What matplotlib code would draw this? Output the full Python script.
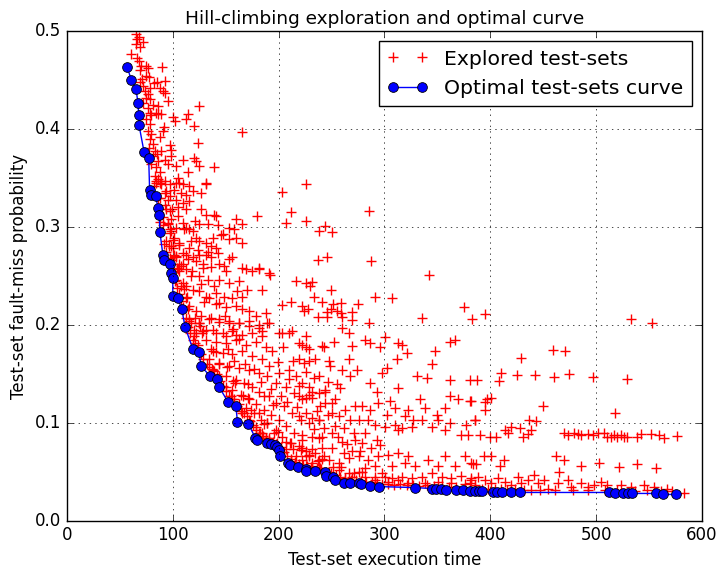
import matplotlib

matplotlib.use("Agg")
import matplotlib.pyplot as plt

# optimal (Pareto) test-sets
opt_time = [57.1, 60.8, 65.2, 67.1, 67.8, 68.1, 72.8, 77.2, 78.1, 79.0,
            84.0, 85.9, 87.2, 87.8, 90.6, 91.5, 97.2, 98.5, 100.0, 100.0,
            104.7, 108.5, 111.6, 118.8, 124.8, 126.7, 135.1, 141.4, 143.6, 152.4,
            159.6, 161.1, 171.5, 177.8, 180.0, 189.3, 192.5, 196.6, 198.5, 200.4,
            201.0, 209.1, 210.7, 218.0, 225.4, 226.0, 234.2, 243.6, 244.8, 251.0,
            253.3, 261.5, 267.0, 275.6, 277.4, 286.6, 294.4, 328.5, 344.5, 348.3,
            353.0, 358.0, 367.7, 374.0, 380.6, 385.3, 389.0, 391.9, 402.5, 406.0,
            411.3, 419.8, 428.2, 512.2, 517.9, 525.7, 530.4, 534.2, 556.1, 563.4,
            575.0]
opt_prob = [0.463, 0.450, 0.441, 0.427, 0.414, 0.404, 0.377, 0.371, 0.338, 0.333,
            0.332, 0.319, 0.312, 0.295, 0.272, 0.266, 0.262, 0.253, 0.248, 0.230,
            0.228, 0.216, 0.198, 0.176, 0.172, 0.158, 0.148, 0.145, 0.137, 0.121,
            0.117, 0.101, 0.099, 0.085, 0.083, 0.079, 0.078, 0.077, 0.075, 0.072,
            0.066, 0.059, 0.057, 0.055, 0.053, 0.051, 0.051, 0.050, 0.046, 0.045,
            0.042, 0.039, 0.039, 0.039, 0.038, 0.036, 0.035, 0.034, 0.033, 0.033,
            0.033, 0.032, 0.031, 0.031, 0.030, 0.030, 0.030, 0.030, 0.029, 0.029,
            0.029, 0.029, 0.029, 0.029, 0.028, 0.028, 0.028, 0.028, 0.028, 0.027,
            0.027]

# explored test-sets, grouped by region of the cloud
steep_time = [64.9, 66.2, 65.5, 69.3, 60.8, 66.2, 68.0, 70.2, 74.9, 76.5,
              69.3, 74.9, 71.2, 77.4, 68.7, 71.8, 78.1, 73.4, 76.5, 74.9,
              78.1, 71.8, 81.2, 76.5, 78.1, 79.6, 74.9, 78.1, 76.5, 79.6,
              78.1, 81.2, 77.4, 82.8, 81.2, 85.9, 79.6, 84.3, 87.5, 82.8,
              85.9, 89.0, 84.3,
              90.0, 84.9, 92.8, 87.5, 90.6, 95.3, 85.9, 84.3, 89.0, 125.1,
              114.1, 112.5, 119.8, 100.0, 102.5, 90.6, 97.5, 123.5, 109.4, 119.8,
              122.0, 139.2, 125.1, 103.2, 114.1, 104.7, 98.4, 98.4, 92.2, 89.0,
              95.3, 131.4,
              84.3, 89.0, 93.7, 87.5, 92.2, 96.9, 90.6, 95.3, 98.4, 101.6,
              93.7, 100.0, 106.3, 103.1, 109.4, 98.4, 106.3, 112.6, 118.8, 125.1,
              128.2, 136.1, 143.9, 150.2, 156.4, 165.8, 175.2, 181.5, 190.9, 117.3,
              122.0, 131.4, 137.6, 147.0, 153.3, 159.6, 140.8, 132.9, 118.8, 125.1,
              112.6]
steep_prob = [0.497, 0.492, 0.487, 0.484, 0.477, 0.473, 0.470, 0.465, 0.464, 0.462,
              0.460, 0.454, 0.451, 0.453, 0.448, 0.444, 0.442, 0.439, 0.436, 0.432,
              0.431, 0.427, 0.425, 0.422, 0.417, 0.414, 0.410, 0.405, 0.398, 0.395,
              0.390, 0.385, 0.381, 0.378, 0.373, 0.367, 0.364, 0.361, 0.356, 0.352,
              0.349, 0.347, 0.345,
              0.463, 0.448, 0.449, 0.442, 0.439, 0.429, 0.424, 0.417, 0.415, 0.424,
              0.415, 0.410, 0.403, 0.412, 0.408, 0.398, 0.384, 0.386, 0.369, 0.371,
              0.367, 0.361, 0.362, 0.362, 0.356, 0.350, 0.379, 0.373, 0.369, 0.378,
              0.364, 0.345,
              0.347, 0.344, 0.337, 0.330, 0.323, 0.316, 0.310, 0.303, 0.296, 0.289,
              0.286, 0.279, 0.282, 0.269, 0.262, 0.266, 0.255, 0.272, 0.269, 0.272,
              0.262, 0.269, 0.262, 0.255, 0.269, 0.258, 0.255, 0.258, 0.253, 0.286,
              0.289, 0.284, 0.289, 0.293, 0.299, 0.289, 0.279, 0.275, 0.296, 0.303,
              0.299]

upper_time = [87.5, 92.2, 96.9, 103.1, 109.4, 115.7, 101.6, 107.8, 112.5, 96.9,
              103.1, 109.4, 115.7, 104.7, 112.5, 118.8, 126.7, 131.4, 140.8, 131.4,
              139.2, 159.6, 179.3, 211.3, 206.6, 225.4, 225.4, 203.5, 132.9, 142.3,
              165.8, 158.0, 145.5, 153.3, 165.8, 125.1, 115.7, 123.5, 136.1, 142.3,
              131.4, 153.3, 148.6, 136.1, 128.2, 122.0, 114.1, 109.4, 106.3, 100.0,
              96.9, 103.1, 109.4, 115.7, 104.7, 98.4, 112.5, 117.2, 107.8, 125.1,
              132.9, 143.9, 139.2, 153.3, 162.7, 169.0, 181.5, 192.0, 216.0, 225.4,
              184.0, 170.5, 161.1, 156.4, 165.8, 148.6, 140.8, 131.4, 125.1, 118.8,
              112.5, 109.4, 129.8, 140.8, 150.2, 159.6, 165.8, 172.1, 178.4, 187.8,
              203.5, 211.3, 222.3, 223.8, 115.7, 122.0, 126.7, 136.1, 143.9, 153.3,
              162.7, 172.1, 181.5, 189.4, 200.3, 209.7, 225.4, 122.0, 131.4, 140.8,
              150.2, 159.6, 184.7, 125.1, 115.7, 92.2, 95.3, 93.7, 95.3, 96.9,
              98.4, 103.1, 104.7, 103.1, 107.8, 112.5, 114.1, 117.2, 120.4, 109.4]
upper_prob = [0.345, 0.347, 0.344, 0.345, 0.344, 0.342, 0.338, 0.335, 0.333, 0.332,
              0.328, 0.325, 0.327, 0.321, 0.318, 0.337, 0.335, 0.344, 0.311, 0.312,
              0.312, 0.308, 0.311, 0.315, 0.304, 0.306, 0.344, 0.336, 0.303, 0.302,
              0.303, 0.298, 0.292, 0.288, 0.284, 0.286, 0.279, 0.277, 0.281, 0.274,
              0.272, 0.267, 0.260, 0.259, 0.258, 0.265, 0.267, 0.274, 0.284, 0.287,
              0.298, 0.299, 0.304, 0.298, 0.311, 0.308, 0.257, 0.250, 0.260, 0.250,
              0.246, 0.246, 0.240, 0.243, 0.245, 0.257, 0.257, 0.251, 0.245, 0.243,
              0.236, 0.236, 0.235, 0.228, 0.229, 0.229, 0.233, 0.229, 0.235, 0.236,
              0.240, 0.243, 0.223, 0.221, 0.218, 0.219, 0.216, 0.214, 0.209, 0.212,
              0.220, 0.224, 0.219, 0.214, 0.219, 0.214, 0.209, 0.207, 0.206, 0.202,
              0.202, 0.199, 0.197, 0.202, 0.192, 0.192, 0.189, 0.192, 0.195, 0.192,
              0.189, 0.190, 0.189, 0.202, 0.206, 0.335, 0.328, 0.318, 0.304, 0.294,
              0.281, 0.270, 0.257, 0.246, 0.240, 0.228, 0.216, 0.202, 0.189, 0.218]

knee_time = [115.7, 125.1, 134.5, 143.9, 153.3, 162.7, 172.1, 181.5, 190.9, 203.5,
             212.9, 222.3, 228.5, 234.8, 242.6, 238.0, 244.2, 120.4, 128.2, 137.6,
             147.0, 156.4, 165.8, 175.2, 184.7, 131.4, 140.8, 150.2, 159.6, 169.0,
             178.4, 187.8, 194.1, 137.6, 147.0, 156.4, 165.8, 175.2, 184.7, 190.9,
             200.3, 209.7, 216.0, 222.3, 228.5, 143.9, 153.3, 162.7, 172.1, 181.5,
             189.4, 197.2, 206.6, 214.4, 222.3, 231.7, 239.5, 244.2, 150.2, 159.6,
             167.4, 175.2, 181.5, 190.9, 197.2, 205.0, 212.9, 220.7, 228.5, 238.0,
             156.4, 164.3, 172.1, 178.4, 186.2, 192.5, 200.3, 206.6, 214.4, 222.3,
             231.7, 241.1, 169.0, 176.8, 183.1, 189.4, 197.2, 203.5, 211.3, 219.1,
             225.4, 234.8, 242.6, 184.7, 190.9, 197.2, 206.6, 216.0, 222.3, 231.7,
             239.5, 211.3, 134.5, 137.6, 143.9, 150.2, 156.4, 162.7, 165.8, 172.1,
             178.4, 181.5, 187.8, 194.1, 200.3]
knee_prob = [0.204, 0.202, 0.206, 0.203, 0.204, 0.202, 0.204, 0.200, 0.202, 0.192,
             0.194, 0.180, 0.175, 0.165, 0.178, 0.148, 0.134, 0.195, 0.194, 0.195,
             0.192, 0.194, 0.190, 0.192, 0.194, 0.185, 0.183, 0.182, 0.185, 0.180,
             0.183, 0.178, 0.173, 0.173, 0.171, 0.170, 0.173, 0.168, 0.165, 0.158,
             0.151, 0.154, 0.148, 0.141, 0.137, 0.161, 0.158, 0.156, 0.154, 0.151,
             0.148, 0.141, 0.137, 0.131, 0.124, 0.125, 0.117, 0.120, 0.148, 0.144,
             0.141, 0.137, 0.132, 0.127, 0.120, 0.117, 0.110, 0.103, 0.100, 0.103,
             0.134, 0.129, 0.124, 0.119, 0.113, 0.108, 0.103, 0.097, 0.090, 0.088,
             0.086, 0.086, 0.115, 0.110, 0.103, 0.100, 0.093, 0.086, 0.079, 0.076,
             0.071, 0.069, 0.066, 0.090, 0.085, 0.078, 0.073, 0.066, 0.062, 0.059,
             0.054, 0.061, 0.165, 0.154, 0.148, 0.137, 0.124, 0.119, 0.110, 0.103,
             0.096, 0.090, 0.085, 0.079, 0.074]

middle_time = [219.1, 225.4, 241.0, 252.0, 269.3, 259.9, 266.1, 281.8, 286.5, 295.9,
               300.6, 313.2, 316.3, 321.0, 347.6, 361.7, 366.4, 219.1, 223.8, 228.5,
               247.3, 248.9, 259.9, 266.1, 274.0, 267.7, 286.5, 292.8, 297.5, 302.2,
               311.6, 313.2, 330.4, 339.8, 344.5, 361.7, 380.6, 333.5, 338.2, 349.2,
               357.0, 361.7, 369.6, 380.6, 219.1, 225.4, 231.6, 237.9, 244.2, 250.5,
               253.6, 258.3, 263.0, 272.4, 278.7, 286.5, 294.3, 305.3, 310.0, 319.4,
               322.6, 327.3, 219.1, 231.6, 237.9, 250.5, 256.7, 267.7, 275.5, 284.9,
               291.2, 302.2, 300.6, 310.0, 313.2, 316.3, 325.7, 335.1, 344.5, 350.8,
               357.0, 361.7, 372.7, 377.4, 385.3, 222.2, 237.9, 250.5, 259.9, 270.8,
               281.8, 292.8, 277.1, 269.3, 261.4, 250.5, 241.0, 231.6, 222.2, 228.5,
               237.9, 247.3, 256.7, 266.1, 275.5, 284.9, 294.3, 303.7, 313.2, 322.6,
               306.9, 319.4, 328.8, 341.4, 350.8, 357.0, 366.4, 375.9, 382.1, 225.4,
               231.6, 237.9, 247.3, 256.7, 263.0, 266.1, 269.3, 275.5, 281.8, 281.8,
               291.2, 291.2, 297.5, 300.6, 303.7, 306.9, 313.2, 316.3, 322.6, 325.7,
               335.1, 338.2, 344.5, 350.8, 353.9, 363.3, 363.3, 372.7, 375.9, 382.1,
               385.3]
middle_prob = [0.182, 0.178, 0.179, 0.183, 0.179, 0.197, 0.192, 0.185, 0.182, 0.178,
               0.188, 0.182, 0.180, 0.171, 0.173, 0.183, 0.185, 0.165, 0.161, 0.163,
               0.163, 0.158, 0.154, 0.165, 0.154, 0.148, 0.141, 0.132, 0.151, 0.156,
               0.165, 0.136, 0.148, 0.146, 0.160, 0.144, 0.144, 0.124, 0.115, 0.108,
               0.115, 0.127, 0.124, 0.122, 0.127, 0.125, 0.132, 0.131, 0.132, 0.120,
               0.124, 0.136, 0.113, 0.117, 0.117, 0.113, 0.120, 0.122, 0.115, 0.107,
               0.113, 0.103, 0.107, 0.105, 0.103, 0.110, 0.107, 0.103, 0.103, 0.103,
               0.098, 0.108, 0.096, 0.098, 0.093, 0.095, 0.096, 0.103, 0.096, 0.103,
               0.093, 0.100, 0.088, 0.098, 0.103, 0.083, 0.085, 0.090, 0.081, 0.090,
               0.090, 0.083, 0.071, 0.071, 0.069, 0.074, 0.074, 0.073, 0.074, 0.066,
               0.062, 0.062, 0.059, 0.064, 0.066, 0.062, 0.066, 0.067, 0.069, 0.066,
               0.056, 0.059, 0.056, 0.062, 0.056, 0.066, 0.056, 0.066, 0.059, 0.056,
               0.056, 0.054, 0.050, 0.052, 0.044, 0.049, 0.045, 0.050, 0.045, 0.054,
               0.042, 0.056, 0.049, 0.045, 0.040, 0.044, 0.042, 0.045, 0.039, 0.044,
               0.045, 0.039, 0.049, 0.040, 0.045, 0.039, 0.044, 0.046, 0.038, 0.042,
               0.037]

tail_time = [459.6, 470.9, 429.2, 409.7, 407.8, 425.0, 442.5, 460.4, 474.8, 497.1,
             529.0, 387.6, 449.5, 517.9, 381.5, 394.7, 397.2, 400.3, 394.7, 385.9,
             437.0, 443.3, 469.9, 473.1, 479.3, 482.5, 485.6, 491.9, 496.6, 501.3,
             507.5, 510.7, 513.8, 516.9, 520.1, 523.2, 526.3, 529.5, 538.9, 542.0,
             551.4, 559.3, 564.0, 576.5, 379.0, 390.0, 399.4, 405.6, 413.5, 419.8,
             427.6, 438.6, 430.7, 416.6, 435.4, 383.7, 386.8, 394.0, 400.9, 412.9,
             408.8, 462.1, 469.9, 465.2, 485.6, 502.8, 521.6, 538.9, 556.1, 441.7,
             382.1, 388.4, 394.7, 400.9, 407.2, 413.5, 419.8, 426.0, 429.2, 435.4,
             444.8, 451.1, 454.2, 463.6, 473.1, 476.2, 485.6, 491.9, 498.1, 504.4,
             510.7, 523.2, 532.6, 545.2, 554.6, 567.1, 582.8, 385.3, 397.8, 410.4,
             422.9, 438.6, 380.6]
tail_prob = [0.174, 0.173, 0.166, 0.151, 0.143, 0.149, 0.149, 0.147, 0.150, 0.147,
             0.145, 0.144, 0.117, 0.110, 0.122, 0.121, 0.124, 0.125, 0.113, 0.103,
             0.103, 0.102, 0.090, 0.088, 0.090, 0.089, 0.088, 0.089, 0.088, 0.090,
             0.090, 0.086, 0.086, 0.088, 0.086, 0.088, 0.086, 0.086, 0.086, 0.089,
             0.089, 0.088, 0.085, 0.087, 0.088, 0.088, 0.086, 0.086, 0.093, 0.096,
             0.095, 0.093, 0.086, 0.090, 0.089, 0.058, 0.058, 0.066, 0.066, 0.062,
             0.056, 0.066, 0.062, 0.050, 0.056, 0.059, 0.055, 0.058, 0.054, 0.047,
             0.044, 0.045, 0.042, 0.039, 0.044, 0.040, 0.037, 0.045, 0.039, 0.042,
             0.039, 0.042, 0.033, 0.039, 0.042, 0.035, 0.039, 0.035, 0.037, 0.040,
             0.037, 0.037, 0.035, 0.037, 0.035, 0.033, 0.028, 0.035, 0.033, 0.033,
             0.033, 0.032, 0.039]

# points hugging the optimal curve (dense red band just above the blue dots)
hug_time = [82, 86, 88, 92, 94, 97, 99, 102, 104, 106,
            108, 110, 112, 114, 116, 119, 121, 124, 127, 129,
            132, 134, 137, 139, 142, 145, 147, 150, 153, 155,
            158, 161, 164, 167, 170, 173, 176, 179, 182, 185,
            188, 191, 195, 198, 202, 205, 208, 212, 215, 219,
            223, 227, 231, 236, 240, 245, 249, 254, 258, 263,
            268, 273, 278, 283, 288, 293, 298, 303, 309, 315,
            321, 327, 333, 340, 347, 354, 361, 368, 376, 392,
            404, 416, 432, 447, 461, 478, 492, 508, 520, 537,
            548, 561, 572,
            91, 96, 101, 104, 111, 113, 121, 126, 128, 136,
            141, 144, 151, 157, 159, 166, 171, 174, 181, 186,
            189, 196, 199, 207, 211, 214, 221, 226, 229, 237,
            241, 251, 259, 271, 279, 291]
hug_prob = [0.342, 0.330, 0.305, 0.283, 0.275, 0.268, 0.262, 0.245, 0.238, 0.232,
            0.225, 0.215, 0.207, 0.198, 0.192, 0.185, 0.182, 0.180, 0.170, 0.165,
            0.160, 0.157, 0.155, 0.153, 0.150, 0.143, 0.138, 0.133, 0.128, 0.127,
            0.124, 0.117, 0.112, 0.110, 0.107, 0.102, 0.098, 0.093, 0.090, 0.087,
            0.085, 0.083, 0.081, 0.080, 0.075, 0.070, 0.066, 0.063, 0.060, 0.058,
            0.057, 0.056, 0.055, 0.054, 0.053, 0.050, 0.049, 0.047, 0.045, 0.043,
            0.042, 0.042, 0.041, 0.040, 0.040, 0.039, 0.038, 0.038, 0.037, 0.038,
            0.037, 0.037, 0.036, 0.037, 0.036, 0.036, 0.035, 0.035, 0.034, 0.033,
            0.033, 0.032, 0.031, 0.032, 0.031, 0.031, 0.031, 0.031, 0.031, 0.030,
            0.031, 0.030, 0.030,
            0.302, 0.281, 0.272, 0.258, 0.237, 0.229, 0.207, 0.199, 0.192, 0.176,
            0.172, 0.160, 0.157, 0.143, 0.141, 0.128, 0.125, 0.113, 0.110, 0.099,
            0.100, 0.090, 0.091, 0.081, 0.080, 0.073, 0.072, 0.066, 0.067, 0.061,
            0.063, 0.055, 0.055, 0.049, 0.050, 0.045]

# extra points filling the dense body of the cloud
fill_time = [152, 158, 163, 168, 171, 177, 183, 186, 193, 195,
             199, 202, 208, 210, 217, 219, 226, 229, 233, 236,
             243, 247, 253, 256, 262, 265, 272, 279, 287, 296,
             204, 214, 226, 233, 247, 255, 118, 127, 134, 144,
             149, 157, 106, 111, 121, 127, 99, 106, 85, 88,
             92, 86, 93, 82, 72, 68]
fill_prob = [0.175, 0.163, 0.186, 0.160, 0.140, 0.155, 0.142, 0.128, 0.135, 0.118,
             0.162, 0.128, 0.121, 0.145, 0.116, 0.138, 0.110, 0.129, 0.094, 0.112,
             0.095, 0.108, 0.097, 0.086, 0.095, 0.078, 0.083, 0.079, 0.074, 0.077,
             0.178, 0.163, 0.152, 0.146, 0.142, 0.140, 0.255, 0.242, 0.228, 0.222,
             0.209, 0.196, 0.262, 0.298, 0.306, 0.318, 0.318, 0.345, 0.375, 0.392,
             0.402, 0.415, 0.437, 0.447, 0.489, 0.494]

outlier_time = [165.2, 285.6, 243.6, 238.0, 250.8, 237.0, 246.0, 286.8, 342.0, 307.5,
                291.2, 375.0, 382.8, 335.0, 275.2, 285.0, 231.6, 230.0, 249.5, 233.2,
                241.0, 259.0, 251.6, 227.6, 249.6, 254.9, 245.5, 269.3, 237.5, 245.9,
                259.9, 269.3, 532.6, 553.0, 394.7, 259.0]
outlier_prob = [0.397, 0.316, 0.301, 0.296, 0.295, 0.266, 0.269, 0.265, 0.251, 0.228,
                0.229, 0.218, 0.206, 0.207, 0.221, 0.202, 0.244, 0.240, 0.236, 0.229,
                0.224, 0.222, 0.221, 0.216, 0.216, 0.214, 0.213, 0.213, 0.208, 0.208,
                0.208, 0.205, 0.206, 0.202, 0.211, 0.212]

explored_time = (steep_time + upper_time + knee_time + middle_time + tail_time
                 + hug_time + fill_time + outlier_time)
explored_prob = (steep_prob + upper_prob + knee_prob + middle_prob + tail_prob
                 + hug_prob + fill_prob + outlier_prob)

plt.style.use("classic")
plt.rcParams["font.family"] = "DejaVu Sans"

fig = plt.figure(figsize=(7.2, 5.68), dpi=100, facecolor="white")
ax = fig.add_subplot(111)
fig.subplots_adjust(left=0.093, right=0.975, bottom=0.083, top=0.945)

ax.plot(explored_time, explored_prob, "r+", ms=7, mew=1.0,
        label="Explored test-sets")
ax.plot(opt_time, opt_prob, "bo-", ms=7, mec="k", mew=0.6, lw=1,
        label="Optimal test-sets curve")

ax.set_xlim(0, 600)
ax.set_ylim(0, 0.5)
ax.grid(True)
ax.set_title("Hill-climbing exploration and optimal curve", fontsize=13.3)
ax.set_xlabel("Test-set execution time", fontsize=12)
ax.set_ylabel("Test-set fault-miss probability", fontsize=12)
ax.legend(loc="upper right", numpoints=2, fontsize=14.7)

fig.savefig("out.png", dpi=100, facecolor="white")
